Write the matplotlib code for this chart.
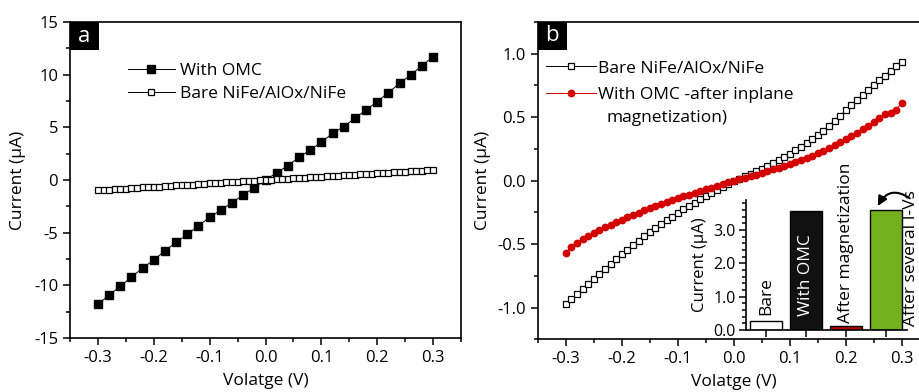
import numpy as np
import matplotlib
matplotlib.use('Agg')
import matplotlib.pyplot as plt
from matplotlib.patches import Rectangle
from matplotlib.ticker import MultipleLocator

plt.rcParams['font.family'] = ['Open Sans', 'DejaVu Sans']
plt.rcParams['font.size'] = 12

#%% panel a data: I-V sweeps
v_omc = np.round(np.arange(-0.30, 0.301, 0.02), 2)
i_omc = [-11.8, -10.92, -10.1, -9.21, -8.36, -7.6, -6.71, -5.92, -5.16, -4.34,
         -3.55, -2.85, -2.15, -1.42, -0.73, 0.0, 0.69, 1.36, 2.16, 2.85,
         3.58, 4.43, 5.06, 5.86, 6.65, 7.44, 8.29, 9.18, 9.97, 10.85, 11.71]

v_fine = np.round(np.arange(-0.30, 0.301, 0.01), 2)
i_bare_a = [-0.97, -0.94, -0.91, -0.87, -0.84, -0.81, -0.78, -0.75, -0.71, -0.68,
            -0.65, -0.62, -0.59, -0.55, -0.52, -0.49, -0.46, -0.43, -0.39, -0.36,
            -0.33, -0.30, -0.27, -0.23, -0.20, -0.17, -0.14, -0.11, -0.07, -0.04,
            -0.01, 0.02, 0.05, 0.09, 0.12, 0.15, 0.18, 0.21, 0.25, 0.28,
            0.31, 0.34, 0.37, 0.41, 0.44, 0.47, 0.50, 0.53, 0.57, 0.60,
            0.63, 0.66, 0.69, 0.73, 0.76, 0.79, 0.82, 0.85, 0.89, 0.92, 0.95]

#%% panel b data
i_bare_b = [-0.975, -0.935, -0.895, -0.855, -0.815, -0.775, -0.735, -0.696, -0.657, -0.618,
            -0.58, -0.543, -0.507, -0.472, -0.438, -0.405, -0.373, -0.342, -0.312, -0.283,
            -0.255, -0.227, -0.2, -0.173, -0.147, -0.122, -0.097, -0.073, -0.05, -0.027,
            -0.005, 0.014, 0.033, 0.053, 0.073, 0.094, 0.116, 0.139, 0.162, 0.186,
            0.211, 0.238, 0.266, 0.296, 0.327, 0.359, 0.394, 0.433, 0.472, 0.512,
            0.553, 0.594, 0.634, 0.674, 0.713, 0.752, 0.79, 0.828, 0.865, 0.90, 0.937]
i_mag = [-0.57, -0.525, -0.495, -0.46, -0.436, -0.413, -0.39, -0.368, -0.347, -0.327,
         -0.307, -0.288, -0.269, -0.251, -0.234, -0.217, -0.201, -0.185, -0.169, -0.154,
         -0.139, -0.124, -0.11, -0.096, -0.082, -0.068, -0.054, -0.04, -0.026, -0.013,
         0.0, 0.012, 0.024, 0.036, 0.048, 0.061, 0.074, 0.088, 0.102, 0.116,
         0.131, 0.147, 0.163, 0.18, 0.198, 0.217, 0.237, 0.258, 0.28, 0.303,
         0.327, 0.352, 0.378, 0.405, 0.433, 0.462, 0.492, 0.522, 0.535, 0.56, 0.612]

# inset bars
bar_names = ['Bare', 'With OMC', 'After magnetization', 'After several I-Vs']
bar_vals = [0.26, 3.56, 0.12, 3.6]
bar_colors = ['white', '#111111', '#c00000', '#72b01e']
bar_text_colors = ['black', 'white', 'black', 'black']

red = '#d40000'

fig = plt.figure(figsize=(9.19, 3.92), dpi=100)

def style_axes(ax):
    for s in ax.spines.values():
        s.set_linewidth(1.2)
    ax.tick_params(which='both', direction='out', top=False, right=False, width=1.1)
    ax.tick_params(which='major', length=5)
    ax.tick_params(which='minor', length=3)

def panel_tag(ax, s):
    w = 29 / (ax.bbox.width)
    h = 28 / (ax.bbox.height)
    ax.add_patch(Rectangle((0, 1 - h), w, h, transform=ax.transAxes,
                           facecolor='black', edgecolor='none', zorder=5, clip_on=False))
    ax.text(w / 2, 1 - h / 2, s, transform=ax.transAxes, color='white',
            ha='center', va='center', fontsize=16, zorder=6)

xtick_vals = np.round(np.arange(-0.3, 0.31, 0.1), 1)
xtick_labels = ['-0.3', '-0.2', '-0.1', '0.0', '0.1', '0.2', '0.3']

#%% panel a
ax1 = fig.add_axes([70 / 919, 54 / 392, 391 / 919, 316 / 392])
ax1.plot(v_omc, i_omc, '-s', color='black', lw=0.7, ms=5.2, mfc='black',
         mec='black', label='With OMC')
ax1.plot(v_fine, i_bare_a, '-s', color='black', lw=0.7, ms=4.1, mfc='white',
         mec='black', mew=0.9, label='Bare NiFe/AlOx/NiFe')
ax1.set_xlim(-0.35, 0.35)
ax1.set_ylim(-15, 15)
ax1.set_xticks(xtick_vals)
ax1.set_xticklabels(xtick_labels)
ax1.xaxis.set_minor_locator(MultipleLocator(0.05))
ax1.set_yticks([-15, -10, -5, 0, 5, 10, 15])
ax1.set_yticklabels(['-15', '-10', '-5', '0', '5', '10', '15'])
ax1.yaxis.set_minor_locator(MultipleLocator(2.5))
style_axes(ax1)
ax1.set_xlabel('Volatge (V)', fontsize=12.5, labelpad=5)
ax1.set_ylabel('Current (μA)', fontsize=12.5)
ax1.yaxis.set_label_coords(-0.113, 0.5)
ax1.legend(loc='upper left', bbox_to_anchor=(0.148, 0.87), frameon=False,
           handlelength=2.7, handletextpad=0.29, labelspacing=0.4,
           borderpad=0, borderaxespad=0, fontsize=12.5)
panel_tag(ax1, 'a')

#%% panel b
ax2 = fig.add_axes([537.7 / 919, 52.7 / 392, 392 / 919, 317.3 / 392])
ax2.plot(v_fine, i_bare_b, '-s', color='black', lw=0.7, ms=4.1, mfc='white',
         mec='black', mew=0.9, label='Bare NiFe/AlOx/NiFe')
ax2.plot(v_fine, i_mag, '-o', color=red, lw=0.7, ms=4.6, mfc=red, mec=red,
         label='With OMC -after inplane')
ax2.set_xlim(-0.35, 0.35)
ax2.set_ylim(-1.25, 1.25)
ax2.set_xticks(xtick_vals)
ax2.set_xticklabels(xtick_labels)
ax2.xaxis.set_minor_locator(MultipleLocator(0.05))
ax2.set_yticks([-1.0, -0.5, 0.0, 0.5, 1.0])
ax2.set_yticklabels(['-1.0', '-0.5', '0.0', '0.5', '1.0'])
ax2.yaxis.set_minor_locator(MultipleLocator(0.25))
style_axes(ax2)
ax2.set_xlabel('Volatge (V)', fontsize=12.5, labelpad=5)
ax2.set_ylabel('Current (μA)', fontsize=12.5)
ax2.yaxis.set_label_coords(-0.119, 0.5)
ax2.legend(loc='upper left', bbox_to_anchor=(0.021, 0.879), frameon=False,
           handlelength=2.9, handletextpad=0.1, labelspacing=0.6,
           borderpad=0, borderaxespad=0, fontsize=12.5)
# second line of the red legend entry
ax2.text(606.7 / 919, 1 - 118.3 / 392, 'magnetization)', transform=fig.transFigure,
         ha='left', va='center', fontsize=12.5)
panel_tag(ax2, 'b')

#%% inset bar chart
axi = fig.add_axes([745.7 / 919, 62 / 392, 161.3 / 919, 130 / 392])
axi.set_facecolor('none')
pos = np.arange(len(bar_vals))
axi.bar(pos, bar_vals, width=0.8, color=bar_colors, edgecolor='black', linewidth=1.0)
axi.set_xlim(-0.51, 3.53)
axi.set_ylim(0, 3.9)
axi.spines['top'].set_visible(False)
axi.spines['right'].set_visible(False)
axi.set_xticks(pos)
axi.set_xticklabels([])
axi.set_yticks([0, 1, 2, 3])
axi.set_yticklabels(['0.0', '1.0', '2.0', '3.0'], fontsize=11.5)
axi.yaxis.set_minor_locator(MultipleLocator(0.2))
style_axes(axi)
axi.tick_params(axis='y', which='major', pad=2)
axi.set_ylabel('Current (μA)', fontsize=12, labelpad=4)
text_bottoms = [0.45, 0.43, 0.22, 0.13]
text_x = [0, 1, 2, 3.64]
for x, yb, name, c in zip(text_x, text_bottoms, bar_names, bar_text_colors):
    axi.text(x, yb, name, rotation=90, ha='center', va='bottom', color=c,
             fontsize=12.5, clip_on=False)
# curved arrow from the label back to the green bar
axi.annotate('', xy=(2.8, 3.72), xytext=(3.6, 3.95),
             arrowprops=dict(arrowstyle='-|>', color='black', lw=1.5,
                             connectionstyle='arc3,rad=0.55', mutation_scale=14,
                             shrinkA=0, shrinkB=0),
             annotation_clip=False)

fig.savefig('out.png', dpi=100, facecolor='white')
